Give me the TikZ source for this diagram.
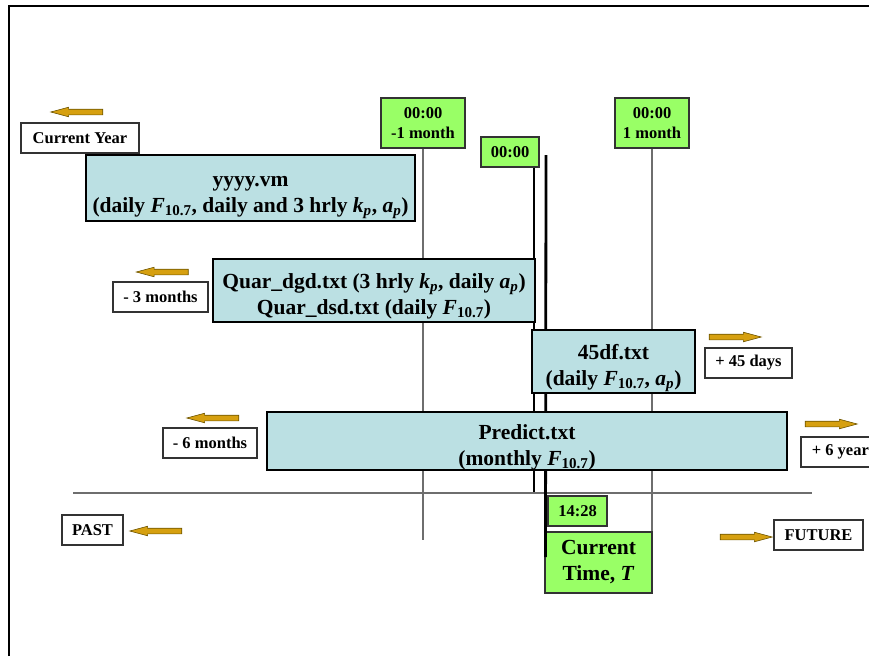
\documentclass[tikz,border=0pt]{standalone}
\usepackage{fontspec}
\setmainfont{Liberation Serif}
\usetikzlibrary{shapes.arrows}

\definecolor{filecyan}{RGB}{187,224,227}
\definecolor{markgreen}{RGB}{153,255,102}
\definecolor{arrgold}{RGB}{214,160,16}
\definecolor{arredge}{RGB}{110,85,0}
\definecolor{tickgray}{RGB}{110,110,110}

\newcommand{\fluxF}{\textit{F}\textsubscript{10.7}}
\newcommand{\kpidx}{\textit{k}\textsubscript{\textit{p}}}
\newcommand{\apidx}{\textit{a}\textsubscript{\textit{p}}}

\begin{document}
\begin{tikzpicture}[x=1pt,y=-1pt,
  bigtext/.style={font=\fontsize{21.5}{26}\selectfont\bfseries},
  smalltext/.style={font=\fontsize{16.5}{20}\selectfont\bfseries},
  filebox/.style={draw=black,line width=1.2pt,fill=filecyan,bigtext,align=center,inner sep=0pt,
    text height=50pt,text depth=2pt},
  timebox/.style={draw=black!80,line width=1.2pt,fill=markgreen,smalltext,align=center,inner sep=0pt},
  spanbox/.style={draw=black!80,line width=1.2pt,fill=white,smalltext,inner sep=0pt,minimum height=30pt},
  goldarrow/.style={single arrow,draw=arredge,fill=arrgold,line width=0.6pt,minimum height=52pt,
    minimum width=9pt,inner sep=2.5pt,single arrow head extend=2pt,single arrow tip angle=30},
  toleft/.style={shape border rotate=180},
  tick/.style={draw=tickgray,line width=1.2pt},
  nowline/.style={draw=black,line width=2.8pt}]
  \useasboundingbox (0,0) rectangle (869,656);
  % frame, cut off at right and bottom
  \draw[line width=2.5pt] (9,656) -- (9,6) -- (869,6);

  % time marks
  \node[timebox,minimum width=84pt,minimum height=50pt] (mon1) at (423,123) {00:00\\-1 month};
  \node[timebox,minimum width=58pt,minimum height=30pt] (midn) at (510,152) {00:00};
  \node[timebox,minimum width=74pt,minimum height=50pt] (mon2) at (652,123) {00:00\\1 month};
  \node[timebox,minimum width=59pt,minimum height=30pt] (nowhm) at (577.5,511) {14:28};
  \node[timebox,bigtext,minimum width=107pt,minimum height=61pt] (curt) at (598.5,562.5) {Current\\Time, \textit{T}};

  \coordinate (mon1end) at (423,540);
  \coordinate (nowa) at (534,492);
  \coordinate (nowtop) at (546,155);
  \coordinate (nowbot) at (545.5,557);
  \coordinate (pastend) at (73,493);
  \coordinate (futend) at (812,493);
  \draw[tick] (pastend) -- (futend);
  \draw[tick] (mon1) -- (mon1end);
  \draw[tick] (mon2) -- (mon2 |- curt.north);
  \draw[nowline] (midn.south -| nowa) -- (nowa);
  \draw[nowline] (nowtop) -- (nowbot);

  % data files
  \node[filebox,minimum width=329pt,minimum height=66pt] (yyyy) at (250.5,188)
    {yyyy.vm\\(daily \fluxF, daily and 3 hrly \kpidx, \apidx)};
  \node[filebox,minimum width=322pt,minimum height=63pt] (quar) at (374,290.5)
    {Quar\_dgd.txt (3 hrly \kpidx, daily \apidx)\\Quar\_dsd.txt (daily \fluxF)};
  \node[filebox,minimum width=163pt,minimum height=63pt] (df45) at (613.5,361.5)
    {45df.txt\\(daily \fluxF, \apidx)};
  \node[filebox,minimum width=520pt,minimum height=58pt] (pred) at (527,441)
    {Predict.txt\\(monthly \fluxF)};

  % spans
  \node[spanbox,minimum width=118pt] (cy) at (80,138) {Current Year};
  \node[spanbox,minimum width=95pt] (m3) at (160.5,297) {- 3 months};
  \node[spanbox,minimum width=94pt] (m6) at (210,443) {- 6 months};
  \node[spanbox,minimum width=87pt] (d45) at (748.5,363) {+ 45 days};
  \node[spanbox,minimum width=85pt] (y6) at (843.5,452) {+ 6 years};
  \node[spanbox,minimum width=61pt] (past) at (92.5,530) {PAST};
  \node[spanbox,minimum width=89pt] (fut) at (818.5,535) {FUTURE};

  \node[goldarrow,toleft] (cyarr) at (82,112) {};
  \node[goldarrow,toleft] (m3arr) at (167.5,272) {};
  \node[goldarrow,toleft] (m6arr) at (218,418) {};
  \node[goldarrow] (d45arr) at (730,337) {};
  \node[goldarrow] (y6arr) at (826,424) {};
  \node[goldarrow,toleft] (pastarr) at (161,531) {};
  \node[goldarrow] (futarr) at (741,537) {};
\end{tikzpicture}
\end{document}
